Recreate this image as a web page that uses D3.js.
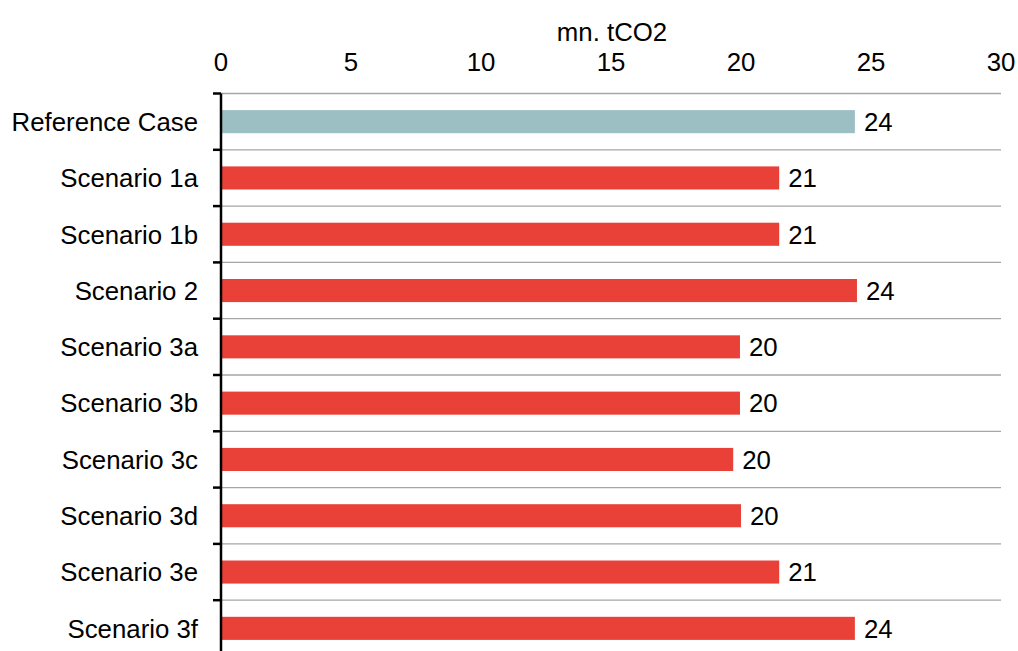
<!DOCTYPE html>
<html>
<head>
<meta charset="utf-8">
<script src="https://cdn.jsdelivr.net/npm/d3@7"></script>
<style>
body { margin: 0; background: #fff; }
text { font-family: "Liberation Sans", Arial, sans-serif; fill: #000; }
</style>
</head>
<body>
<div id="chart"></div>
<script>
var categories = ["Reference Case", "Scenario 1a", "Scenario 1b", "Scenario 2",
	"Scenario 3a", "Scenario 3b", "Scenario 3c", "Scenario 3d", "Scenario 3e", "Scenario 3f"];
var values = [24.38, 21.47, 21.47, 24.46, 19.96, 19.96, 19.7, 20.0, 21.47, 24.38];
var xTicks = [0, 5, 10, 15, 20, 25, 30];
var axisTitle = "mn. tCO2";

var width = 1018, height = 651;
var margin = {left: 221, right: 17, top: 93.5};
var rowH = 56.3;
var fontSize = "25.8px";

var svg = d3.select("#chart")
	.append("svg")
	.attr("width", width)
	.attr("height", height);

var x = d3.scaleLinear()
	.domain([0, 30])
	.range([margin.left, width - margin.right]);

var y = d3.scaleBand()
	.domain(categories)
	.range([margin.top, margin.top + rowH * categories.length])
	.paddingInner(0.59)
	.paddingOuter(0.295);

var bounds = d3.range(categories.length + 1).map(function(i) {
	return margin.top + rowH * i;
});

// gridlines between rows
svg.append("g")
	.selectAll("line")
	.data(bounds)
	.enter()
	.append("line")
	.attr("x1", x(0))
	.attr("x2", x(30))
	.attr("y1", function(d) { return d; })
	.attr("y2", function(d) { return d; })
	.attr("stroke", "#a6a6a6")
	.attr("stroke-width", 1.3);

// bars
svg.append("g")
	.selectAll("rect")
	.data(values)
	.enter()
	.append("rect")
	.attr("x", x(0) + 1)
	.attr("y", function(d, i) { return y(categories[i]); })
	.attr("width", function(d) { return x(d) - x(0) - 1; })
	.attr("height", y.bandwidth())
	.attr("fill", function(d, i) { return i == 0 ? "#9bbfc2" : "#e94037"; });

// value labels
svg.append("g")
	.selectAll("text")
	.data(values)
	.enter()
	.append("text")
	.attr("x", function(d) { return x(d) + 9; })
	.attr("y", function(d, i) { return y(categories[i]) + y.bandwidth() / 2; })
	.attr("dy", "0.36em")
	.style("font-size", fontSize)
	.text(function(d) { return Math.round(d); });

// y axis line and ticks
svg.append("line")
	.attr("x1", x(0))
	.attr("x2", x(0))
	.attr("y1", margin.top)
	.attr("y2", height + 10)
	.attr("stroke", "#000")
	.attr("stroke-width", 2.5);

svg.append("g")
	.selectAll("line")
	.data(bounds)
	.enter()
	.append("line")
	.attr("x1", x(0) - 8)
	.attr("x2", x(0))
	.attr("y1", function(d) { return d; })
	.attr("y2", function(d) { return d; })
	.attr("stroke", "#000")
	.attr("stroke-width", 2.5);

// category labels
svg.append("g")
	.selectAll("text")
	.data(categories)
	.enter()
	.append("text")
	.attr("x", x(0) - 23)
	.attr("y", function(d) { return y(d) + y.bandwidth() / 2; })
	.attr("dy", "0.36em")
	.attr("text-anchor", "end")
	.style("font-size", fontSize)
	.text(function(d) { return d; });

// top tick labels
svg.append("g")
	.selectAll("text")
	.data(xTicks)
	.enter()
	.append("text")
	.attr("x", function(d) { return x(d); })
	.attr("y", 71)
	.attr("text-anchor", "middle")
	.style("font-size", fontSize)
	.text(function(d) { return d; });

svg.append("text")
	.attr("x", 612)
	.attr("y", 41)
	.attr("text-anchor", "middle")
	.style("font-size", fontSize)
	.text(axisTitle);
</script>
</body>
</html>
